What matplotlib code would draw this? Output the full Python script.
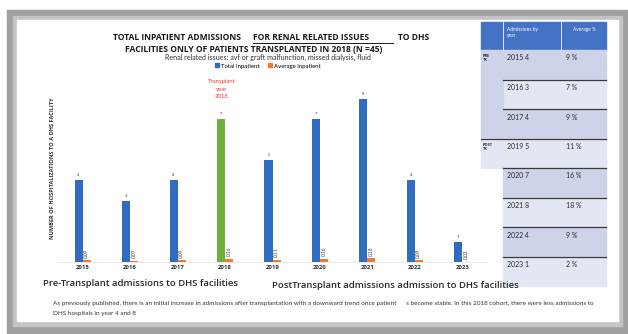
import numpy as np
import matplotlib.pyplot as plt
from matplotlib.patches import Rectangle, Patch

# chart values
years = ['2015', '2016', '2017', '2018', '2019', '2020', '2021', '2022', '2023']
total_inpatient = [4, 3, 4, 7, 5, 7, 8, 4, 1]
average_inpatient = [0.09, 0.07, 0.09, 0.16, 0.11, 0.16, 0.18, 0.09, 0.02]
transplant_year = '2018'

# side table values
table_years = ['2015', '2016', '2017', '2019', '2020', '2021', '2022', '2023']
table_admissions = [4, 3, 4, 5, 7, 8, 4, 1]
table_percent = [9, 7, 9, 11, 16, 18, 9, 2]
pre_rows = 3

BLUE = '#2f6cc2'
GREEN = '#6cb040'
ORANGE = '#ed7d31'
plt.rcParams['font.family'] = ['Lato', 'DejaVu Sans']
BOLD = ['Open Sans', 'DejaVu Sans']

W, H = 628, 334
fig = plt.figure(figsize=(W / 100, H / 100), dpi=100)

# background layer in pixel coordinates (frame, texts, table)
bg = fig.add_axes([0, 0, 1, 1], zorder=0)
bg.set_xlim(0, W)
bg.set_ylim(H, 0)
bg.axis('off')
bg.add_patch(Rectangle((7, 10), W - 7, H - 10, color='#a0a0a0'))
bg.add_patch(Rectangle((13, 16), W - 19, H - 24, color='#c4c4c4'))
bg.add_patch(Rectangle((17, 20), 601, 301, color='white'))

# title
title_kw = dict(fontsize=6.15, fontweight='bold', va='center', color='#1a1a1a', family=BOLD)
bg.text(113, 38, 'TOTAL INPATIENT ADMISSIONS', **title_kw)
bg.text(253, 38, 'FOR RENAL RELATED ISSUES', **title_kw)
bg.plot([253, 393], [42.6, 42.6], color='#1a1a1a', lw=0.7)
bg.text(398, 38, 'TO DHS', **title_kw)
bg.text(254, 50, 'FACILITIES ONLY OF PATIENTS TRANSPLANTED IN 2018 (N =45)',
        ha='center', **title_kw)
bg.text(268, 57.5, 'Renal related issues: avf or graft malfunction, missed dialysis, fluid',
        fontsize=5.1, ha='center', va='center', color='#333333')

# red note above the transplant year bar
bg.text(222, 89, 'Transplant\nyear\n2018', fontsize=4.3, ha='center', va='center',
        color='#ee3a3a', linespacing=1.5)

bg.text(53, 168, 'NUMBER OF HOSPITALIZATIONS TO A DHS FACILITY', fontsize=4.1,
        fontweight='bold', rotation=90, ha='center', va='center', color='#333333',
        family=BOLD)

# bar chart
ax = fig.add_axes([59 / W, (H - 262) / H, 427 / W, 9 * 20.4 / H], zorder=1)
ax.patch.set_alpha(0)
x = np.arange(len(years))
bw = 0.17
colors = [GREEN if y == transplant_year else BLUE for y in years]
ax.bar(x - bw / 2, total_inpatient, bw, color=colors)
ax.bar(x + bw / 2, average_inpatient, bw, color=ORANGE)
for i in range(len(years)):
    ax.text(x[i] - bw / 2, total_inpatient[i] + 0.15, str(total_inpatient[i]),
            ha='center', va='bottom', fontsize=3, color='#404040')
    ax.text(x[i] + bw / 2, average_inpatient[i] + 0.12, f'{average_inpatient[i]:.2f}',
            ha='center', va='bottom', rotation=90, fontsize=3.4, color='#404040')
ax.set_xlim(-0.5, len(years) - 0.5)
ax.set_ylim(0, 9)
ax.set_xticks(x)
ax.set_xticklabels(years, fontsize=4.3, fontweight='bold', color='#333333', family=BOLD)
ax.tick_params(axis='x', length=0, pad=2)
ax.set_yticks([])
for s in ['top', 'right', 'left']:
    ax.spines[s].set_visible(False)
ax.spines['bottom'].set_color('#e0e0e0')
ax.spines['bottom'].set_linewidth(0.5)

handles = [Patch(color=BLUE, label='Total Inpatient'),
           Patch(color=ORANGE, label='Average Inpatient')]
fig.legend(handles=handles, loc='center', bbox_to_anchor=(268 / W, 1 - 66 / H),
           ncol=2, frameon=False, fontsize=4.3, handlelength=0.6, handleheight=0.6,
           handletextpad=0.4, columnspacing=1.5)

# bottom captions
bg.text(43, 283, 'Pre-Transplant admissions to DHS facilities', fontsize=6.8,
        fontweight='semibold', va='center', color='#2a2a2a', family=BOLD)
bg.text(272, 286, 'PostTransplant admissions admission to DHS facilities', fontsize=6.8,
        fontweight='semibold', va='center', color='#2a2a2a', family=BOLD)
bg.text(53, 304, 'As previously published, there is an initial increase in admissions after '
        'transplantation with a downward trend once patient      s become stable. In this '
        '2018 cohort, there were less admissions to', fontsize=4.6, va='center', color='#333333')
bg.text(53, 313, 'DHS hospitals in year 4 and 8', fontsize=4.6, va='center', color='#333333')

# side table
tx0, tx1, tx2, tx3 = 481, 503, 561, 606
head_top, head_bot = 22, 50
row_h = 29.5
bg.add_patch(Rectangle((tx0, head_top), tx3 - tx0, head_bot - head_top, color='#4472c4'))
bg.plot([tx1, tx1], [head_top, head_bot], color='white', lw=0.6)
bg.plot([tx2, tx2], [head_top, head_bot], color='white', lw=0.6)
bg.text(tx1 + 4, head_top + 5, 'Admissions by\nyear', fontsize=3.5, color='white',
        va='top', linespacing=1.3)
bg.text(tx2 + 12, head_top + 5, 'Average %', fontsize=3.5, color='white', va='top')

for i in range(len(table_years)):
    top = head_bot + i * row_h
    shade = '#cdd4ea' if i % 2 == 0 else '#e3e7f3'
    bg.add_patch(Rectangle((tx1, top), tx3 - tx1, row_h, color=shade))
    if i <= pre_rows:
        bg.add_patch(Rectangle((tx0, top), tx1 - tx0, row_h,
                               color='#cdd4ea' if i < pre_rows else shade))
    bg.text(tx1 + 4, top + 8, f'{table_years[i]} {table_admissions[i]}', fontsize=5,
            va='center', color='#2a2a2a')
    bg.text(tx2 + 5, top + 8, f'{table_percent[i]} %', fontsize=5, va='center',
            color='#2a2a2a')
    if i < len(table_years) - 1:
        left = tx0 if i == pre_rows - 1 else tx1
        bg.plot([left, tx3], [top + row_h, top + row_h], color='#3a3a3a', lw=0.9)

bg.text(tx0 + 2, head_bot + 4, 'PRE\nTX', fontsize=2.8, fontweight='bold', va='top',
        color='#2a2a2a', linespacing=1.1, family=BOLD)
bg.text(tx0 + 2, head_bot + pre_rows * row_h + 4, 'POST\nTX', fontsize=2.8,
        fontweight='bold', va='top', color='#2a2a2a', linespacing=1.1, family=BOLD)

fig.savefig('out.png', dpi=100)
